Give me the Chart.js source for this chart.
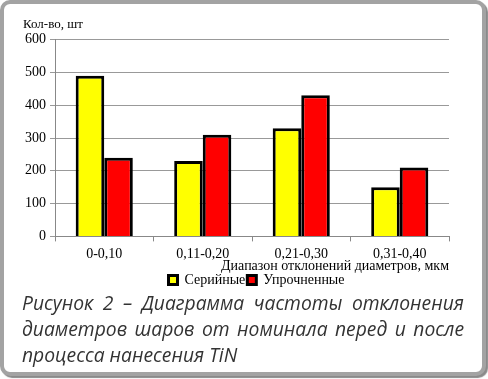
<!DOCTYPE html>
<html>
<head>
<meta charset="utf-8">
<script src="https://cdn.jsdelivr.net/npm/chart.js@4/dist/chart.umd.min.js"></script>
<style>
  html, body { margin: 0; padding: 0; background: #fff; }
  .frame {
    position: absolute; left: 0; top: 0; width: 478px; height: 368px;
    border: 4px solid #a3a3a3; border-radius: 10px; background: #fff;
    box-shadow: 2px 2px 1px #8a8a8a;
  }
  .chart-box { position: absolute; left: 8px; top: 6px; width: 460px; height: 291px; }
  .caption {
    position: absolute; left: 22px; top: 290px; width: 442px;
    font-family: "Open Sans", "Noto Sans", sans-serif; font-style: italic;
    font-size: 19.3px; line-height: 26px; color: #333;
  }
  .caption div { text-align: justify; text-align-last: justify; white-space: nowrap; }
  .caption div.last { text-align-last: left; }
</style>
</head>
<body>
<div class="frame"></div>
<div class="chart-box"><canvas id="chart"></canvas></div>
<div class="caption">
  <div>Рисунок 2 – Диаграмма частоты отклонения</div>
  <div>диаметров шаров от номинала перед и после</div>
  <div class="last">процесса нанесения TiN</div>
</div>
<script>
// --- Данные диаграммы ---
const categories = ['0-0,10', '0,11-0,20', '0,21-0,30', '0,31-0,40'];
const serialValues = [490, 230, 330, 150];
const hardenedValues = [240, 310, 430, 210];
const yTicks = [0, 100, 200, 300, 400, 500, 600];

const serifFamily = '"Liberation Serif", "Times New Roman", serif';
const serifFont = { family: serifFamily, size: 14, weight: 'normal' };

// сдвиг заголовка оси Y и легенды вправо, как в оригинале
const shiftBlocks = {
    id: 'shiftBlocks',
    afterLayout(chart) {
        chart.titleBlock.left += 15;
        chart.titleBlock.right += 15;
        chart.legend.left += 28;
        chart.legend.right += 28;
    }
};

function drawChart() {
    Chart.defaults.font.family = serifFamily;
    new Chart(document.getElementById('chart'), {
        type: 'bar',
        data: {
            labels: categories,
            datasets: [
                { label: 'Серийные', data: serialValues, backgroundColor: '#ffff00', borderColor: '#000', borderWidth: 3 },
                { label: 'Упрочненные', data: hardenedValues, backgroundColor: '#ff0000', borderColor: '#000', borderWidth: 3 }
            ]
        },
        plugins: [shiftBlocks],
        options: {
            responsive: true,
            maintainAspectRatio: false,
            animation: false,
            datasets: { bar: { categoryPercentage: 0.58, barPercentage: 1.0 } },
            layout: { padding: { left: 0, right: 19, top: 0, bottom: 0 } },
            plugins: {
                title: {
                    display: true, text: 'Кол-во, шт', align: 'start', color: '#000',
                    font: { family: serifFamily, size: 13, weight: 'normal' },
                    padding: { top: 11, bottom: 7 }
                },
                legend: {
                    position: 'bottom',
                    labels: {
                        color: '#000', font: serifFont, boxWidth: 9, boxHeight: 9, padding: 2,
                        generateLabels(chart) {
                            return chart.data.datasets.map((ds, i) => ({
                                text: ds.label, fillStyle: ds.backgroundColor, strokeStyle: '#000',
                                lineWidth: 3, datasetIndex: i, fontColor: '#000'
                            }));
                        }
                    }
                },
                tooltip: { enabled: false }
            },
            scales: {
                x: {
                    offset: true,
                    grid: { display: true, drawOnChartArea: false, offset: true, color: '#888', tickLength: 5 },
                    border: { color: '#888' },
                    ticks: { color: '#000', font: serifFont, padding: 5 },
                    title: { display: true, text: 'Диапазон отклонений диаметров, мкм', align: 'end', color: '#000', font: serifFont, padding: { top: -10, bottom: -4 } }
                },
                y: {
                    min: 0, max: 600,
                    afterBuildTicks(axis) { axis.ticks = yTicks.map(v => ({ value: v })); },
                    afterFit(axis) { axis.width = 47; },
                    grid: { color: '#999', tickLength: 5 },
                    border: { color: '#888' },
                    ticks: { color: '#000', font: serifFont, padding: 4 }
                }
            }
        }
    });
}

document.fonts.load('14px "Liberation Serif"').then(drawChart, drawChart);
</script>
</body>
</html>
